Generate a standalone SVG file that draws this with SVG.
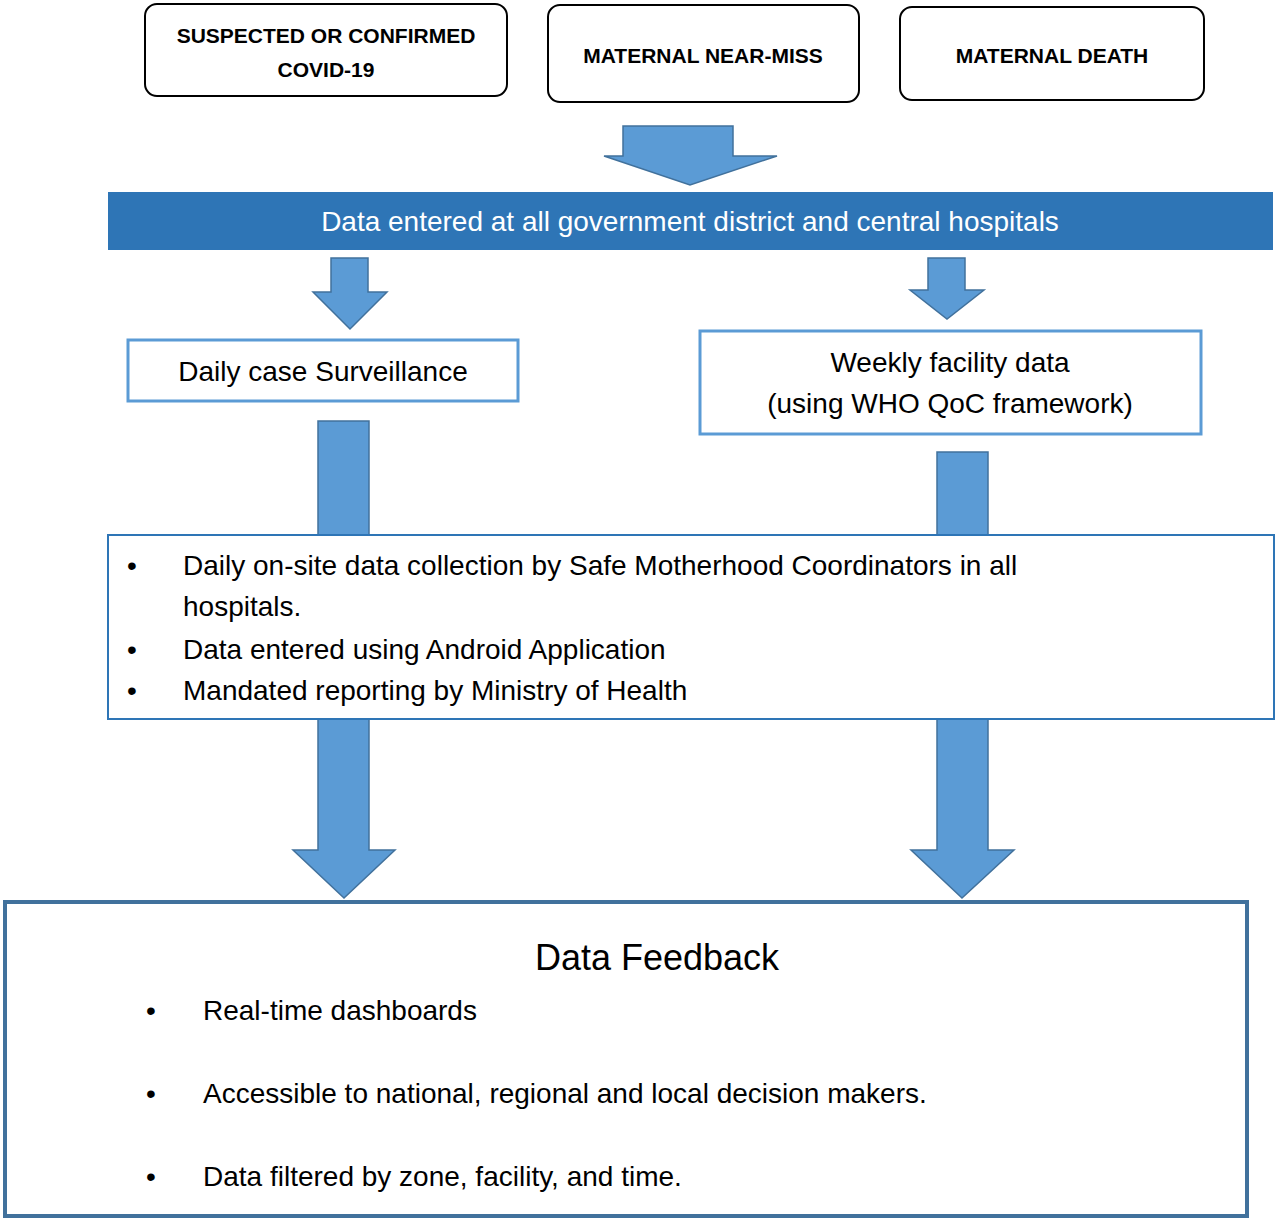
<svg xmlns="http://www.w3.org/2000/svg" width="1280" height="1221" viewBox="0 0 1280 1221">
<style>
.top{fill:#fff;stroke:#000;stroke-width:2}
.tt{font-family:"Liberation Sans",Arial,sans-serif;font-weight:bold;font-size:21px;text-anchor:middle;fill:#000}
.arr{fill:#5b9bd5;stroke:#41719c;stroke-width:1.5}
.t{font-family:"Liberation Sans",Arial,sans-serif;font-size:28px;fill:#000}
.c{text-anchor:middle}
.bx{fill:#fff;stroke:#5b9bd5;stroke-width:3}
</style>
<rect width="1280" height="1221" fill="#fff"/>
<g id="connectors">
<polygon class="arr" points="623,126 733,126 733,156 777,156 690,185 604,156 623,156"/>
<polygon class="arr" points="331,258 368,258 368,292 387,292 350,329 313,292 331,292"/>
<polygon class="arr" points="928,258 965,258 965,290 984,290 947,319 910,290 928,290"/>
<rect class="arr" x="318" y="421" width="51" height="114"/>
<rect class="arr" x="937" y="452" width="51" height="83"/>
<polygon class="arr" points="318,719 369,719 369,850 395,850 344,898 293,850 318,850"/>
<polygon class="arr" points="937,719 988,719 988,850 1014,850 962,898 911,850 937,850"/>
</g>
<g id="n1"><rect class="top" x="145" y="4" width="362" height="92" rx="12"/>
<text class="tt" x="326" y="43">SUSPECTED OR CONFIRMED</text><text class="tt" x="326" y="77">COVID-19</text></g>
<g id="n2"><rect class="top" x="548" y="5" width="311" height="97" rx="12"/>
<text class="tt" x="703" y="63">MATERNAL NEAR-MISS</text></g>
<g id="n3"><rect class="top" x="900" y="7" width="304" height="93" rx="12"/>
<text class="tt" x="1052" y="63">MATERNAL DEATH</text></g>
<g id="banner"><rect x="108" y="192" width="1165" height="58" fill="#2e75b6"/>
<text class="t c" x="690" y="231" fill="#fff" style="fill:#fff">Data entered at all government district and central hospitals</text></g>
<g id="daily"><rect class="bx" x="128" y="340" width="390" height="61"/>
<text class="t c" x="323" y="381">Daily case Surveillance</text></g>
<g id="weekly"><rect class="bx" x="700" y="331" width="501" height="103"/>
<text class="t c" x="950" y="372">Weekly facility data</text>
<text class="t c" x="950" y="413">(using WHO QoC framework)</text></g>
<g id="collect"><rect x="108" y="535" width="1166" height="184" fill="#fff" stroke="#2e75b6" stroke-width="2"/>
<text class="t" x="127" y="575">•</text><text class="t" x="183" y="575">Daily on-site data collection by Safe Motherhood Coordinators in all</text>
<text class="t" x="183" y="616">hospitals.</text>
<text class="t" x="127" y="659">•</text><text class="t" x="183" y="659">Data entered using Android Application</text>
<text class="t" x="127" y="700">•</text><text class="t" x="183" y="700">Mandated reporting by Ministry of Health</text></g>
<g id="feedback"><rect x="5" y="902" width="1242" height="314" fill="#fff" stroke="#41719c" stroke-width="4"/>
<text class="t c" x="657" y="970" style="font-size:36px">Data Feedback</text>
<text class="t" x="146" y="1020">•</text><text class="t" x="203" y="1020">Real-time dashboards</text>
<text class="t" x="146" y="1103">•</text><text class="t" x="203" y="1103">Accessible to national, regional and local decision makers.</text>
<text class="t" x="146" y="1186">•</text><text class="t" x="203" y="1186">Data filtered by zone, facility, and time.</text></g>
</svg>
